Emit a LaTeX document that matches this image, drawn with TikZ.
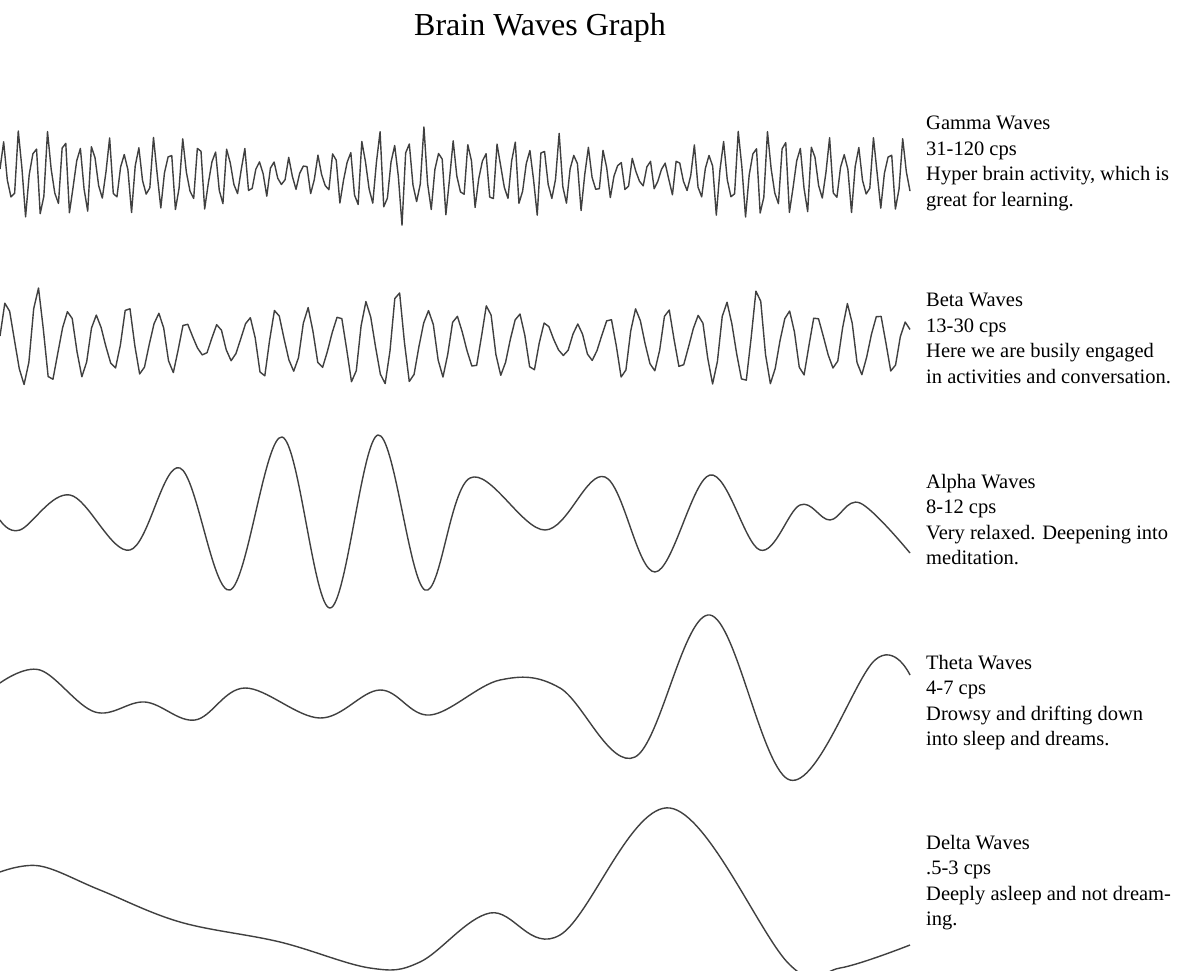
\documentclass[tikz,border=0pt]{standalone}
\usepackage{fontspec}
\setmainfont{Liberation Serif}
\begin{document}
\begin{tikzpicture}[x=1pt,y=-1pt,
  wave/.style={draw=black!75,line width=1.4pt,line join=round},
  lbl/.style={anchor=north west,align=left,inner sep=0pt,font=\fontsize{20.5}{25.5}\selectfont}]
\useasboundingbox[fill=white] (0,0) rectangle (1200,970);
\node[font=\fontsize{32}{36}\selectfont] (title) at (540,28) {Brain Waves Graph};
% gamma
\draw[wave] plot[domain=0:910,samples=250] (\x,{175-(34+10*sin(mod(\x,360))+8*sin(2*mod(\x,180)+40))*(0.8*sin(24*mod(\x,15))+0.3*sin(40*mod(\x,9)+30))});
% beta
\draw[wave] plot[domain=0:910,samples=190] (\x,{342-(34+10*sin(mod(\x,360)+60)+8*sin(3*mod(\x,120)))*(0.9*sin(12*mod(\x,30))+0.18*sin(20*mod(\x,18)+50))});
% alpha
\draw[wave] plot[smooth,tension=0.6] coordinates {(0,520) (20,530) (70,495) (130,550) (180,468) (230,590) (282,437) (330,608) (378,435) (425,590) (470,478) (545,530) (605,477) (655,572) (710,475) (760,550) (800,505) (830,520) (860,503) (910,553)};
% theta
\draw[wave] plot[smooth,tension=0.6] coordinates {(0,683) (40,670) (95,712) (145,702) (195,720) (245,688) (320,718) (380,690) (430,715) (500,680) (560,688) (635,757) (710,615) (790,780) (875,660) (910,675)};
% delta
\draw[wave] plot[smooth,tension=0.6] coordinates {(0,872) (40,866) (100,890) (180,922) (280,942) (370,968) (420,962) (490,913) (560,935) (670,808) (790,965) (840,968) (910,945)};
\node[lbl] (g) at (926,116) {Gamma Waves\\31-120 cps\\Hyper brain activity, which is\\great for learning.};
\node[lbl] (b) at (926,293) {Beta Waves\\13-30 cps\\Here we are busily engaged\\in activities and conversation.};
\node[lbl] (a) at (926,474) {Alpha Waves\\8-12 cps\\Very relaxed. Deepening into\\meditation.};
\node[lbl] (t) at (926,655) {Theta Waves\\4-7 cps\\Drowsy and drifting down\\into sleep and dreams.};
\node[lbl] (d) at (926,835) {Delta Waves\\.5-3 cps\\Deeply asleep and not dream-\\ing.};
\end{tikzpicture}
\end{document}
